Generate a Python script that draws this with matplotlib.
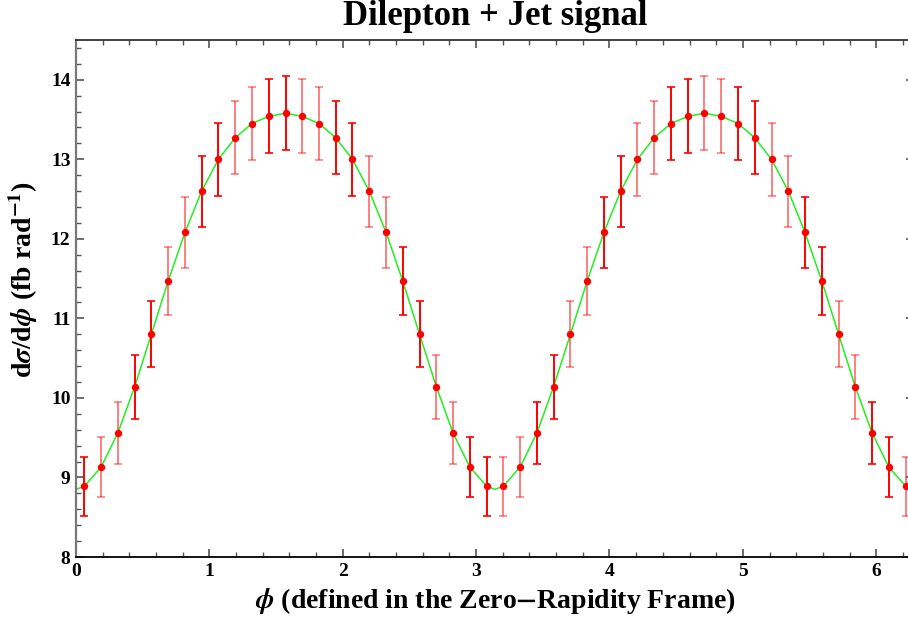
import numpy as np
import matplotlib
matplotlib.use("Agg")
from matplotlib import pyplot as plt
from matplotlib.ticker import MultipleLocator

# data (50 bin dari 0 sampai 2 pi)
phi_pts = [0.063, 0.188, 0.314, 0.440, 0.565, 0.691, 0.817, 0.942, 1.068, 1.194,
           1.319, 1.445, 1.571, 1.696, 1.822, 1.948, 2.073, 2.199, 2.325, 2.450,
           2.576, 2.702, 2.827, 2.953, 3.079, 3.204, 3.330, 3.456, 3.581, 3.707,
           3.833, 3.958, 4.084, 4.210, 4.335, 4.461, 4.587, 4.712, 4.838, 4.964,
           5.089, 5.215, 5.341, 5.466, 5.592, 5.718, 5.843, 5.969, 6.095, 6.220]
dsig = [8.89, 9.13, 9.56, 10.14, 10.80, 11.47, 12.08, 12.60, 13.00, 13.27,
        13.45, 13.54, 13.58, 13.54, 13.45, 13.27, 13.00, 12.60, 12.08, 11.47,
        10.80, 10.14, 9.56, 9.13, 8.89, 8.89, 9.13, 9.56, 10.14, 10.80,
        11.47, 12.08, 12.60, 13.00, 13.27, 13.45, 13.54, 13.58, 13.54, 13.45,
        13.27, 13.00, 12.60, 12.08, 11.47, 10.80, 10.14, 9.56, 9.13, 8.89]
err = [0.372, 0.379, 0.391, 0.400, 0.416, 0.427, 0.441, 0.446, 0.458, 0.460,
       0.464, 0.464, 0.469, 0.464, 0.464, 0.460, 0.458, 0.446, 0.441, 0.427,
       0.416, 0.400, 0.391, 0.379, 0.372, 0.372, 0.379, 0.391, 0.400, 0.416,
       0.427, 0.441, 0.446, 0.458, 0.460, 0.464, 0.464, 0.469, 0.464, 0.464,
       0.460, 0.458, 0.446, 0.441, 0.427, 0.416, 0.400, 0.391, 0.379, 0.372]

# kurva fit (hijau): titik ujung + minimum di pi
fit_extra_x = [0.0, 3.1416, 6.2832]
fit_extra_y = [8.85, 8.85, 8.85]

plt.rcParams['font.family'] = ['Liberation Serif', 'DejaVu Serif']
plt.rcParams['font.weight'] = 'bold'
plt.rcParams['mathtext.fontset'] = 'stix'

fig = plt.figure(figsize=(9.08, 6.28), dpi=100)
ax = fig.add_axes([76/908, 71/628, 838/908, 517/628])

# kurva hijau
cx = np.array(phi_pts + fit_extra_x)
cy = np.array(dsig + fit_extra_y)
urut = np.argsort(cx)
ax.plot(cx[urut], cy[urut], color='#22ee22', lw=1.1, zorder=2)

# error bar merah, selang-seling terang/pudar seperti aslinya
alpha_pola = [1.0, 0.5, 0.5, 1.0]
for i in range(len(phi_pts)):
    ax.errorbar(phi_pts[i], dsig[i], yerr=err[i], fmt='none', ecolor='red',
                elinewidth=1.4, capsize=3.2, capthick=1.2,
                alpha=alpha_pola[i % 4], zorder=3)
ax.plot(phi_pts, dsig, 'o', color='red', ms=4.3, zorder=4)

ax.set_xlim(0, 2*np.pi)
ax.set_ylim(8, 14.5)
ax.xaxis.set_major_locator(MultipleLocator(1))
ax.xaxis.set_minor_locator(MultipleLocator(0.2))
ax.yaxis.set_major_locator(MultipleLocator(1))
ax.yaxis.set_minor_locator(MultipleLocator(0.2))
ax.tick_params(which='both', direction='in', top=True, right=True,
               labelsize=14, colors='#555555', labelcolor='black', pad=4)
ax.tick_params(which='major', length=6, width=1.2)
ax.tick_params(which='minor', length=3.5, width=1.0)
for t in ax.get_xticklabels() + ax.get_yticklabels():
    t.set_fontweight('bold')

ax.spines['left'].set_color('#777777')
ax.spines['left'].set_linewidth(1.6)
ax.spines['bottom'].set_color('black')
ax.spines['bottom'].set_linewidth(1.3)
ax.spines['top'].set_color('#333333')
ax.spines['top'].set_linewidth(1.3)

ax.set_title('Dilepton + Jet signal', fontsize=25, fontweight='bold', pad=11)
ax.set_xlabel(r'$\boldsymbol{\phi}$ (defined in the Zero$\mathbf{-}$Rapidity Frame)',
              fontsize=20, fontweight='bold', labelpad=5)
ax.set_ylabel(r'd$\boldsymbol{\sigma}$/d$\boldsymbol{\phi}$ (fb rad$^{\mathbf{-1}}$)',
              fontsize=20, fontweight='bold')
ax.yaxis.set_label_coords(-0.043, 0.536)

plt.savefig('out.png', dpi=100)
